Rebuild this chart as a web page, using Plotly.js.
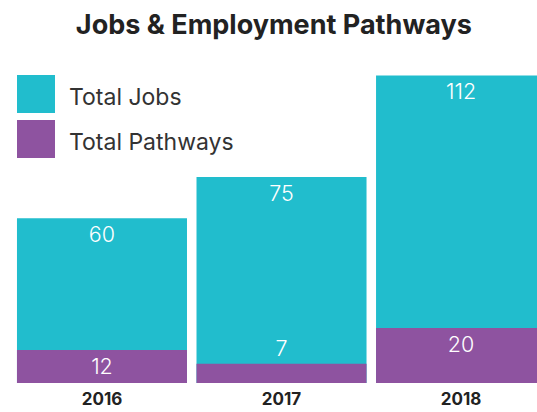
<!DOCTYPE html>
<html>
<head>
<meta charset="utf-8">
<script src="https://cdn.plot.ly/plotly-3.0.1.min.js"></script>
<style>html,body{margin:0;padding:0;background:#fff;}#chart{width:537px;height:412px;}</style>
</head>
<body>
<div id="chart"></div>
<script>
var years = ['2016', '2017', '2018'];
var totalJobs = [60, 75, 112];
var totalPathways = [12, 7, 20];
var seriesNames = ['Total Jobs', 'Total Pathways'];

var teal = '#21BDCD';
var purple = '#8E53A0';
var FONT = 'Inter, Lato, sans-serif';

var jobsTrace = {
  type: 'bar', x: years, y: totalJobs, name: seriesNames[0],
  marker: {color: teal, line: {width: 0}},
  width: 0.947,
  text: totalJobs.map(String),
  textposition: 'inside', insidetextanchor: 'end', textangle: 0, constraintext: 'none',
  textfont: {family: FONT, size: 21.5, color: '#ffffff', weight: 300},
  hoverinfo: 'x+y', showlegend: false
};
var pathTrace = {
  type: 'bar', x: years, y: totalPathways, name: seriesNames[1],
  marker: {color: purple, line: {width: 0}},
  width: 0.947,
  text: totalPathways.map(String),
  textposition: ['inside', 'outside', 'inside'], insidetextanchor: 'end', textangle: 0, constraintext: 'none',
  textfont: {family: FONT, size: 21.5, color: '#ffffff', weight: 300},
  outsidetextfont: {family: FONT, size: 21.5, color: '#ffffff', weight: 300},
  cliponaxis: false,
  hoverinfo: 'x+y', showlegend: false
};

var H = 313, B = 383;
function py(p) { return (B - p) / H; }
function px(p) { return p / 537; }

var layout = {
  width: 537, height: 412,
  margin: {l: 0, r: 0, t: 70, b: 29, pad: 0},
  paper_bgcolor: '#fff', plot_bgcolor: '#fff',
  barmode: 'overlay',
  title: {text: 'Jobs & Employment Pathways', x: 0.51, xanchor: 'center', y: 1 - 25 / 412, yanchor: 'middle', yref: 'container',
          font: {family: FONT, size: 27, color: '#222222', weight: 700}},
  xaxis: {type: 'category', range: [-0.568, 2.423], showgrid: false, zeroline: false, showline: false, ticks: '',
          ticklabelstandoff: 4,
          tickfont: {family: FONT, size: 17, color: '#222222', weight: 700}, fixedrange: true},
  yaxis: {range: [0, 114], visible: false, fixedrange: true},
  shapes: [
    {type: 'rect', xref: 'paper', yref: 'paper', x0: px(17), x1: px(55), y0: py(113), y1: py(75), fillcolor: teal, line: {width: 0}},
    {type: 'rect', xref: 'paper', yref: 'paper', x0: px(17), x1: px(55), y0: py(158), y1: py(120), fillcolor: purple, line: {width: 0}}
  ],
  annotations: [
    {xref: 'paper', yref: 'paper', x: px(67), y: py(97), xanchor: 'left', yanchor: 'middle', showarrow: false, text: seriesNames[0],
     font: {family: FONT, size: 23, color: '#333333'}},
    {xref: 'paper', yref: 'paper', x: px(67), y: py(141.7), xanchor: 'left', yanchor: 'middle', showarrow: false, text: seriesNames[1],
     font: {family: FONT, size: 23, color: '#333333'}}
  ],
  showlegend: false
};

Plotly.newPlot('chart', [jobsTrace, pathTrace], layout, {displayModeBar: false, staticPlot: true});
</script>
</body>
</html>
